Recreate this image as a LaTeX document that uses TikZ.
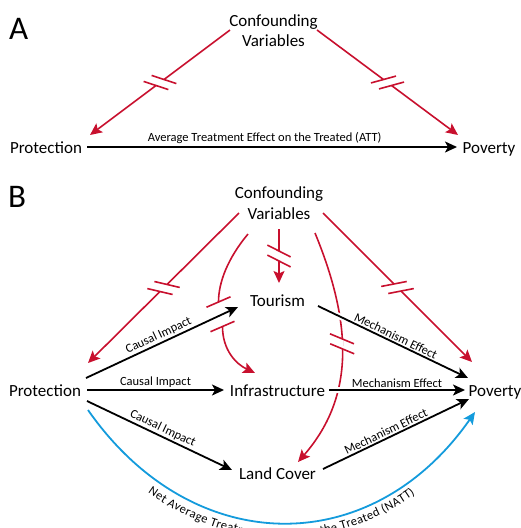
\documentclass[tikz,border=0pt]{standalone}
\usepackage{fontspec}
\setmainfont{Carlito}
\usetikzlibrary{arrows.meta,decorations.markings,decorations.text}
\definecolor{cvred}{RGB}{200,16,46}
\definecolor{nattblue}{RGB}{20,155,220}
\newcommand\nodefs{\fontsize{17}{20.5}\selectfont}
\newcommand\labfs{\fontsize{12.5}{14}\selectfont}
\begin{document}
\begin{tikzpicture}[x=1pt,y=-1pt,
  var/.style={font=\nodefs, inner sep=0pt, text height=13pt, text depth=1pt},
  conf/.style={font=\nodefs, inner sep=0pt, align=center},
  panel/.style={font=\fontsize{33}{36}\selectfont, inner sep=0pt, anchor=base west},
  eff/.style={draw=black, line width=1.8pt, -{Stealth[length=12pt,width=11pt,inset=3pt]}},
  conf arrow/.style={draw=cvred, line width=1.6pt, -{Stealth[length=12pt,width=11pt,inset=2.5pt]}},
  lab/.style={font=\labfs, inner sep=1.5pt, midway, above, sloped},
  halo/.style={preaction={draw=white, line width=6pt, -}},
  brk/.style 2 args={postaction={decorate}, decoration={markings, mark=at position #1 with {
     \fill[white] (-5pt,-1.6pt) rectangle (5pt,1.6pt);
     \draw[cvred, line width=1.6pt, -] (-5pt,0pt) ++(#2+180:13pt) -- ++(#2:26pt);
     \draw[cvred, line width=1.6pt, -] (5pt,0pt) ++(#2+180:13pt) -- ++(#2:26pt);
  }}},
  natt/.style={draw=nattblue, line width=1.8pt, -{Stealth[length=12pt,width=11pt,inset=2.5pt]},
     postaction={decorate, decoration={text along path,
       text={|\labfs|Net Average Treatment Effect on the Treated (NATT)},
       text align=center, raise=-15pt}}},
]
\useasboundingbox (0,0) rectangle (521,528);

% ---------- Panel A ----------
\node[panel] (lblA) at (9,39) {A};
\node[conf] (CA) at (273.5,30.5) {Confounding\\Variables};
\node[var] (PA) at (46,147) {Protection};
\node[var] (VA) at (489,147) {Poverty};

\draw[conf arrow, brk={0.5}{-55}] ([shift={(-43.5,-0.5)}]CA.center) -- ([shift={(44,-12)}]PA.center);
\draw[conf arrow, brk={0.5}{52}] ([shift={(43.5,-0.5)}]CA.center) -- ([shift={(-31,-12)}]VA.center);
\draw[eff] ([shift={(41,0)}]PA.center) -- node[lab, inner sep=2.5pt, pos=0.48] {Average Treatment Effect on the Treated (ATT)} ([shift={(-32,0)}]VA.center);

% ---------- Panel B ----------
\node[panel] (lblB) at (8,207) {B};
\node[conf] (CB) at (279,203) {Confounding\\Variables};
\node[var] (TB) at (277.5,300) {Tourism};
\node[var] (IB) at (277.5,390) {Infrastructure};
\node[var] (LB) at (277.5,473) {Land Cover};
\node[var] (PB) at (45,390) {Protection};
\node[var] (VB) at (495,390) {Poverty};
\coordinate (g1) at (218.5,302);
\coordinate (g2) at (222.5,326.5);

% confounding (red) links
\draw[conf arrow, brk={0.5}{-58}] ([shift={(-40,10)}]CB.center) -- ([shift={(43,-27)}]PB.center);
\draw[conf arrow, brk={0.5}{56}] ([shift={(44,10)}]CB.center) -- ([shift={(-23,-28)}]VB.center);
\draw[conf arrow, brk={0.5}{63}] ([shift={(0,26)}]CB.center) -- ([shift={(1.5,-17)}]TB.center);
\draw[conf arrow, -] ([shift={(-31,31)}]CB.center) .. controls (228,258) and (218.5,282) .. (g1);
\draw[conf arrow] (g2) .. controls (222.5,350) and (236,364) .. ([shift={(-22.5,-17)}]IB.center);
\draw[cvred, line width=1.6pt] ([shift={(-12,5.2)}]g1) -- ([shift={(12,-5.2)}]g1);
\draw[cvred, line width=1.6pt] ([shift={(-12,5.2)}]g2) -- ([shift={(12,-5.2)}]g2);
\draw[conf arrow, brk={0.47}{66}] ([shift={(36,30)}]CB.center) .. controls (355,330) and (352,400) .. ([shift={(20.5,-11)}]LB.center);

% causal impacts
\draw[eff] ([shift={(41,-12)}]PB.center) -- node[lab] {Causal Impact} ([shift={(-39.5,7)}]TB.center);
\draw[eff] ([shift={(42,0)}]PB.center) -- node[lab] {Causal Impact} ([shift={(-53.5,0)}]IB.center);
\draw[eff] ([shift={(42,11)}]PB.center) -- node[lab] {Causal Impact} ([shift={(-45.5,-3)}]LB.center);

% mechanism effects
\draw[eff, halo] ([shift={(40.5,6)}]TB.center) -- node[lab] {Mechanism Effect} ([shift={(-27,-12)}]VB.center);
\draw[eff, halo] ([shift={(51.5,0)}]IB.center) -- node[lab] {Mechanism Effect} ([shift={(-30,0)}]VB.center);
\draw[eff] ([shift={(45.5,-4)}]LB.center) -- node[lab, pos=0.45] {Mechanism Effect} ([shift={(-26,9)}]VB.center);

% net effect
\draw[natt] ([shift={(43,20)}]PB.center) .. controls (192,559) and (371,561) .. ([shift={(-20,22)}]VB.center);
\end{tikzpicture}
\end{document}
